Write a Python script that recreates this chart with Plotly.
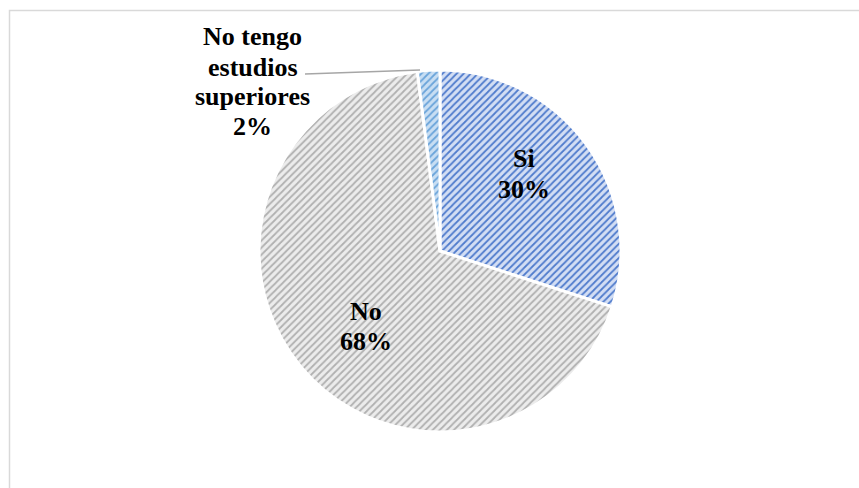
import plotly.graph_objects as go

# Survey answers and their shares (%)
categories = ["Si", "No", "No tengo estudios superiores"]
values = [30, 68, 2]
label_lines = [["Si"], ["No"], ["No tengo", "estudios", "superiores"]]

bg_colors = ["#d3def4", "#ececec", "#c8def3"]
fg_colors = ["#4f7bcc", "#b0b0b0", "#6aa4da"]

W, H = 859, 488
cx, cy, r = 440, 251, 181

fig = go.Figure()
fig.add_trace(go.Pie(
    labels=categories,
    values=values,
    sort=False,
    direction="clockwise",
    rotation=0,
    textinfo="none",
    hoverinfo="label+percent",
    showlegend=False,
    marker=dict(
        colors=bg_colors,
        line=dict(color="white", width=3),
        pattern=dict(
            shape="/",
            bgcolor=bg_colors,
            fgcolor=fg_colors,
            size=5,
            solidity=0.35,
        ),
    ),
    domain=dict(x=[(cx - r) / W, (cx + r) / W],
                y=[(H - cy - r) / H, (H - cy + r) / H]),
))

total = sum(values)
font = dict(family="Liberation Serif", size=26, color="black")
line_gap = 30
# first-line centre of each label block, in pixels (x, y from top)
label_pos = [(524, 159), (366, 311), (253, 37)]
for lines, v, (px, py) in zip(label_lines, values, label_pos):
    pct = round(100 * v / total)
    for k, txt in enumerate(lines + [f"{pct}%"]):
        fig.add_annotation(
            x=px / W, y=1 - (py + k * line_gap) / H, xref="paper", yref="paper",
            text=f"<b>{txt}</b>",
            showarrow=False, font=font, align="center",
            xanchor="center", yanchor="middle",
        )

shapes = [
    # leader line for the small slice
    dict(type="line", xref="paper", yref="paper",
         x0=305 / W, y0=1 - 74 / H, x1=420 / W, y1=1 - 70 / H,
         line=dict(color="#a6a6a6", width=1.5)),
    # chart frame
    dict(type="rect", xref="paper", yref="paper",
         x0=9.5 / W, y0=-0.1, x1=1.1, y1=1 - 10.5 / H,
         line=dict(color="#d9d9d9", width=1.5), fillcolor="rgba(0,0,0,0)"),
]

fig.update_layout(
    width=W, height=H,
    margin=dict(l=0, r=0, t=0, b=0),
    paper_bgcolor="white",
    plot_bgcolor="white",
    shapes=shapes,
)

fig.write_html("out.html")
